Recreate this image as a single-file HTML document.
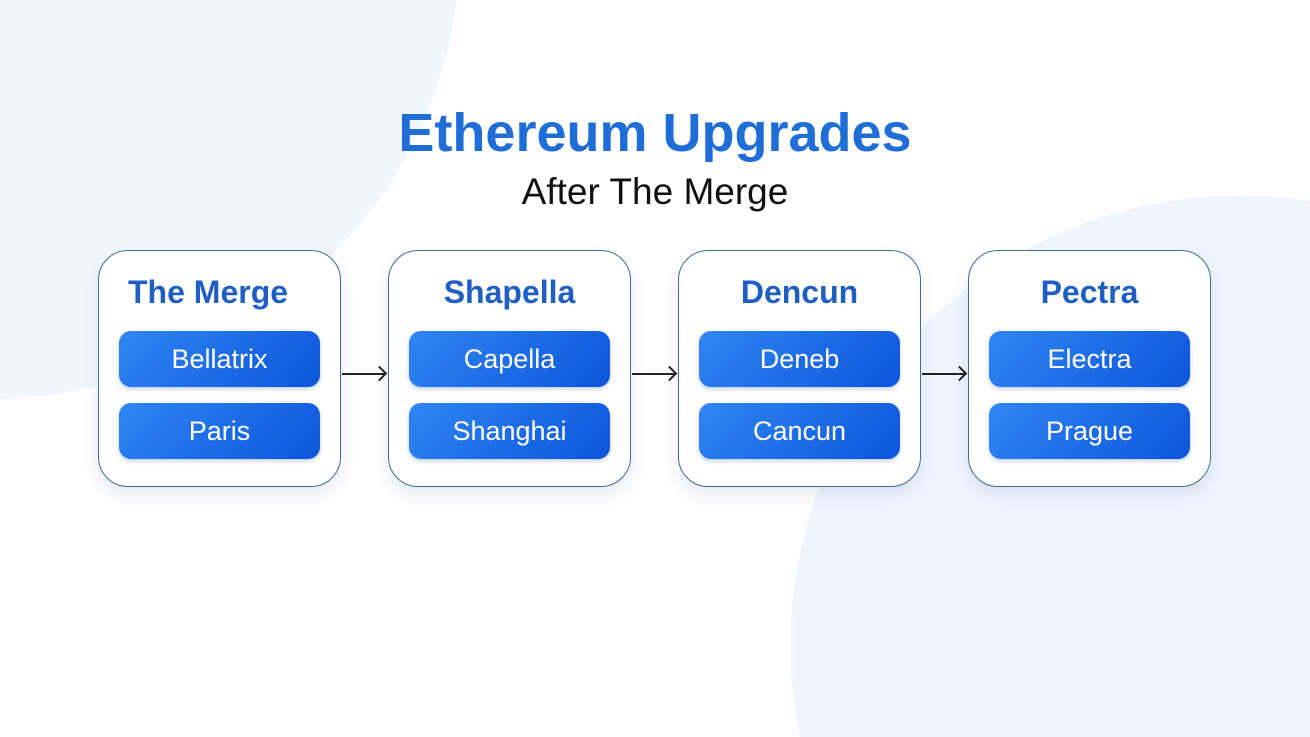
<!DOCTYPE html>
<html style="overflow:hidden;width:1310px;height:737px"><head><style>
body{margin:0;width:1310px;height:737px;overflow:hidden;font-family:"Liberation Sans",sans-serif;
background:
radial-gradient(circle 450px at 1240px 645px,#f0f5fd 449px,rgba(255,255,255,0) 450px),
radial-gradient(ellipse 480px 450px at -20px -50px,#f1f6fd 99.8%,rgba(255,255,255,0) 100%),
#fff;position:relative}
h1{position:absolute;left:0;width:1310px;top:102px;margin:0;text-align:center;font-size:54px;font-weight:bold;color:#1f6ed8}
h2{position:absolute;left:0;width:1310px;top:171px;margin:0;text-align:center;font-size:37px;font-weight:normal;color:#111}
.card{position:absolute;top:250px;width:241px;height:235px;border:1px solid #3d6f86;border-radius:30px;background:#fff;box-shadow:0 8px 16px rgba(40,80,140,.12)}
.card .t{position:absolute;top:23px;left:0;width:100%;text-align:center;font-size:32px;font-weight:bold;color:#1f5fc4}
.b{position:absolute;left:20px;width:201px;height:56px;border-radius:12px;background:linear-gradient(135deg,#2f86f2,#0d55dc);color:#fff;font-size:27px;text-align:center;line-height:56px;box-shadow:0 2px 4px rgba(0,60,160,.25)}
.b1{top:80px}.b2{top:152px}
.arr{position:absolute;top:373px;width:44px;height:2px;background:#222}
.arr:after{content:"";position:absolute;top:-5px;width:9px;height:9px;border-right:2px solid #222;border-top:2px solid #222;transform:rotate(45deg);right:1px}
</style></head><body>
<h1>Ethereum Upgrades</h1>
<h2>After The Merge</h2>
<div class="card" style="left:98px"><div class="t" style="text-align:left;left:29px">The Merge</div><div class="b b1">Bellatrix</div><div class="b b2">Paris</div></div>
<div class="card" style="left:388px"><div class="t">Shapella</div><div class="b b1">Capella</div><div class="b b2">Shanghai</div></div>
<div class="card" style="left:678px"><div class="t">Dencun</div><div class="b b1">Deneb</div><div class="b b2">Cancun</div></div>
<div class="card" style="left:968px"><div class="t">Pectra</div><div class="b b1">Electra</div><div class="b b2">Prague</div></div>
<div class="arr" style="left:342px"></div>
<div class="arr" style="left:632px"></div>
<div class="arr" style="left:922px"></div>
</body></html>
